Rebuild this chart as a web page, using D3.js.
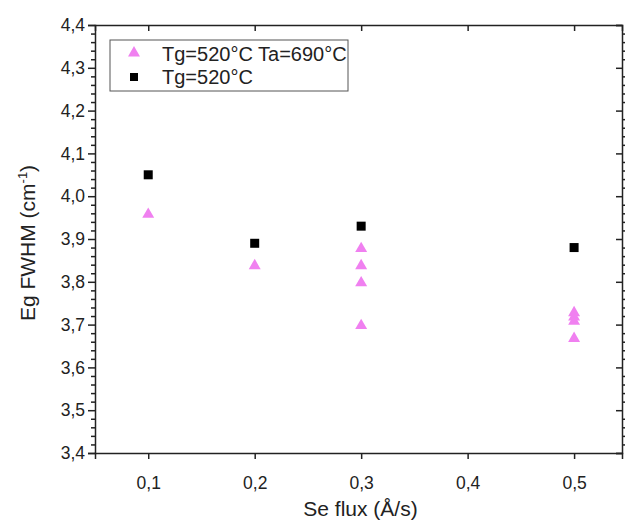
<!DOCTYPE html>
<html>
<head>
<meta charset="utf-8">
<script src="https://cdn.jsdelivr.net/npm/d3@7"></script>
<style>
  body { margin: 0; background: #fff; }
  text { font-family: "Liberation Sans", Arial, sans-serif; fill: #222; }
</style>
</head>
<body>
<div id="chart"></div>
<script>
var width = 625;
var height = 520;

// annealed series (Tg=520°C Ta=690°C)
var annealedFlux = [0.1, 0.2, 0.3, 0.3, 0.3, 0.3, 0.5, 0.5, 0.5, 0.5];
var annealedFwhm = [3.96, 3.84, 3.88, 3.84, 3.80, 3.70, 3.73, 3.72, 3.71, 3.67];

// as grown series (Tg=520°C)
var grownFlux = [0.1, 0.2, 0.3, 0.5];
var grownFwhm = [4.05, 3.89, 3.93, 3.88];

var xTicks = [0.1, 0.2, 0.3, 0.4, 0.5];
var yTicks = [3.4, 3.5, 3.6, 3.7, 3.8, 3.9, 4.0, 4.1, 4.2, 4.3, 4.4];
var legendLabels = ["Tg=520°C Ta=690°C", "Tg=520°C"];

var plotLeft = 95, plotRight = 622, plotTop = 25, plotBottom = 453;

var xScale = d3.scaleLinear().domain([0.05, 0.545]).range([plotLeft, plotRight]);
var yScale = d3.scaleLinear().domain([3.4, 4.4]).range([plotBottom, plotTop]);

var comma = function(d) { return d3.format(".1f")(d).replace(".", ","); };

var svg = d3.select("#chart")
    .append("svg")
    .attr("width", width)
    .attr("height", height);

// minor y ticks every 0.02
var minorY = d3.range(3.42, 4.4, 0.02).filter(function(d) {
    return Math.abs(Math.round(d * 10) - d * 10) > 0.01;
});

// left axis
svg.append("g")
    .attr("transform", "translate(" + plotLeft + ",0)")
    .call(d3.axisLeft(yScale).tickValues(minorY).tickSize(4).tickFormat(""))
    .call(function(g) { g.select(".domain").remove(); });
svg.append("g")
    .attr("class", "yaxis")
    .attr("transform", "translate(" + plotLeft + ",0)")
    .call(d3.axisLeft(yScale).tickValues(yTicks).tickSize(7).tickPadding(3).tickFormat(comma));

// right axis
svg.append("g")
    .attr("transform", "translate(" + plotRight + ",0)")
    .call(d3.axisRight(yScale).tickValues(minorY).tickSize(3).tickFormat(""))
    .call(function(g) { g.select(".domain").remove(); });
svg.append("g")
    .attr("transform", "translate(" + plotRight + ",0)")
    .call(d3.axisLeft(yScale).tickValues(yTicks).tickSize(6).tickFormat(""));

// bottom axis
svg.append("g")
    .attr("class", "xaxis")
    .attr("transform", "translate(0," + plotBottom + ")")
    .call(d3.axisBottom(xScale).tickValues(xTicks).tickSize(6).tickPadding(18).tickFormat(comma));

// top axis
svg.append("g")
    .attr("transform", "translate(0," + plotTop + ")")
    .call(d3.axisBottom(xScale).tickValues(xTicks).tickSize(6).tickFormat(""));

svg.selectAll(".domain, .tick line")
    .attr("stroke", "#222")
    .attr("stroke-width", 1.5);
svg.selectAll("g").attr("font-size", 17).attr("font-family", null);
svg.selectAll(".tick text")
    .style("font-size", "17.5px")
    .attr("fill", "#222");

// axis titles
svg.append("text")
    .attr("x", (plotLeft + plotRight) / 2 + 2)
    .attr("y", 516)
    .attr("text-anchor", "middle")
    .style("font-size", "21px")
    .text("Se flux (Å/s)");

var yt = svg.append("text")
    .attr("transform", "translate(35," + ((plotTop + plotBottom) / 2 + 4) + ") rotate(-90)")
    .attr("text-anchor", "middle")
    .style("font-size", "21px");
yt.append("tspan").text("Eg FWHM (cm");
yt.append("tspan").attr("dy", -8).style("font-size", "13px").text("-1");
yt.append("tspan").attr("dy", 8).text(")");

// data
var tri = d3.symbol().type(d3.symbolTriangle).size(62);

svg.selectAll("path.annealed")
    .data(annealedFwhm)
    .enter()
    .append("path")
    .attr("class", "annealed")
    .attr("d", tri)
    .attr("transform", function(d, i) {
        return "translate(" + xScale(annealedFlux[i]) + "," + (yScale(d) + 1) + ")";
    })
    .attr("fill", "#f080f0");

svg.selectAll("rect.grown")
    .data(grownFwhm)
    .enter()
    .append("rect")
    .attr("class", "grown")
    .attr("x", function(d, i) { return xScale(grownFlux[i]) - 4.5; })
    .attr("y", function(d) { return yScale(d) - 4.5; })
    .attr("width", 9)
    .attr("height", 9)
    .attr("fill", "#000");

// legend
var lg = svg.append("g");
lg.append("rect")
    .attr("x", 110)
    .attr("y", 40)
    .attr("width", 238)
    .attr("height", 51)
    .attr("fill", "#fff")
    .attr("stroke", "#555")
    .attr("stroke-width", 1);
lg.append("path")
    .attr("d", tri)
    .attr("transform", "translate(134,53)")
    .attr("fill", "#f080f0");
lg.append("rect")
    .attr("x", 130)
    .attr("y", 73)
    .attr("width", 8)
    .attr("height", 8)
    .attr("fill", "#000");
lg.selectAll("text.lab")
    .data(legendLabels)
    .enter()
    .append("text")
    .attr("class", "lab")
    .attr("x", 162)
    .attr("y", function(d, i) { return 61 + i * 23; })
    .style("font-size", "20px")
    .text(function(d) { return d; });
</script>
</body>
</html>
